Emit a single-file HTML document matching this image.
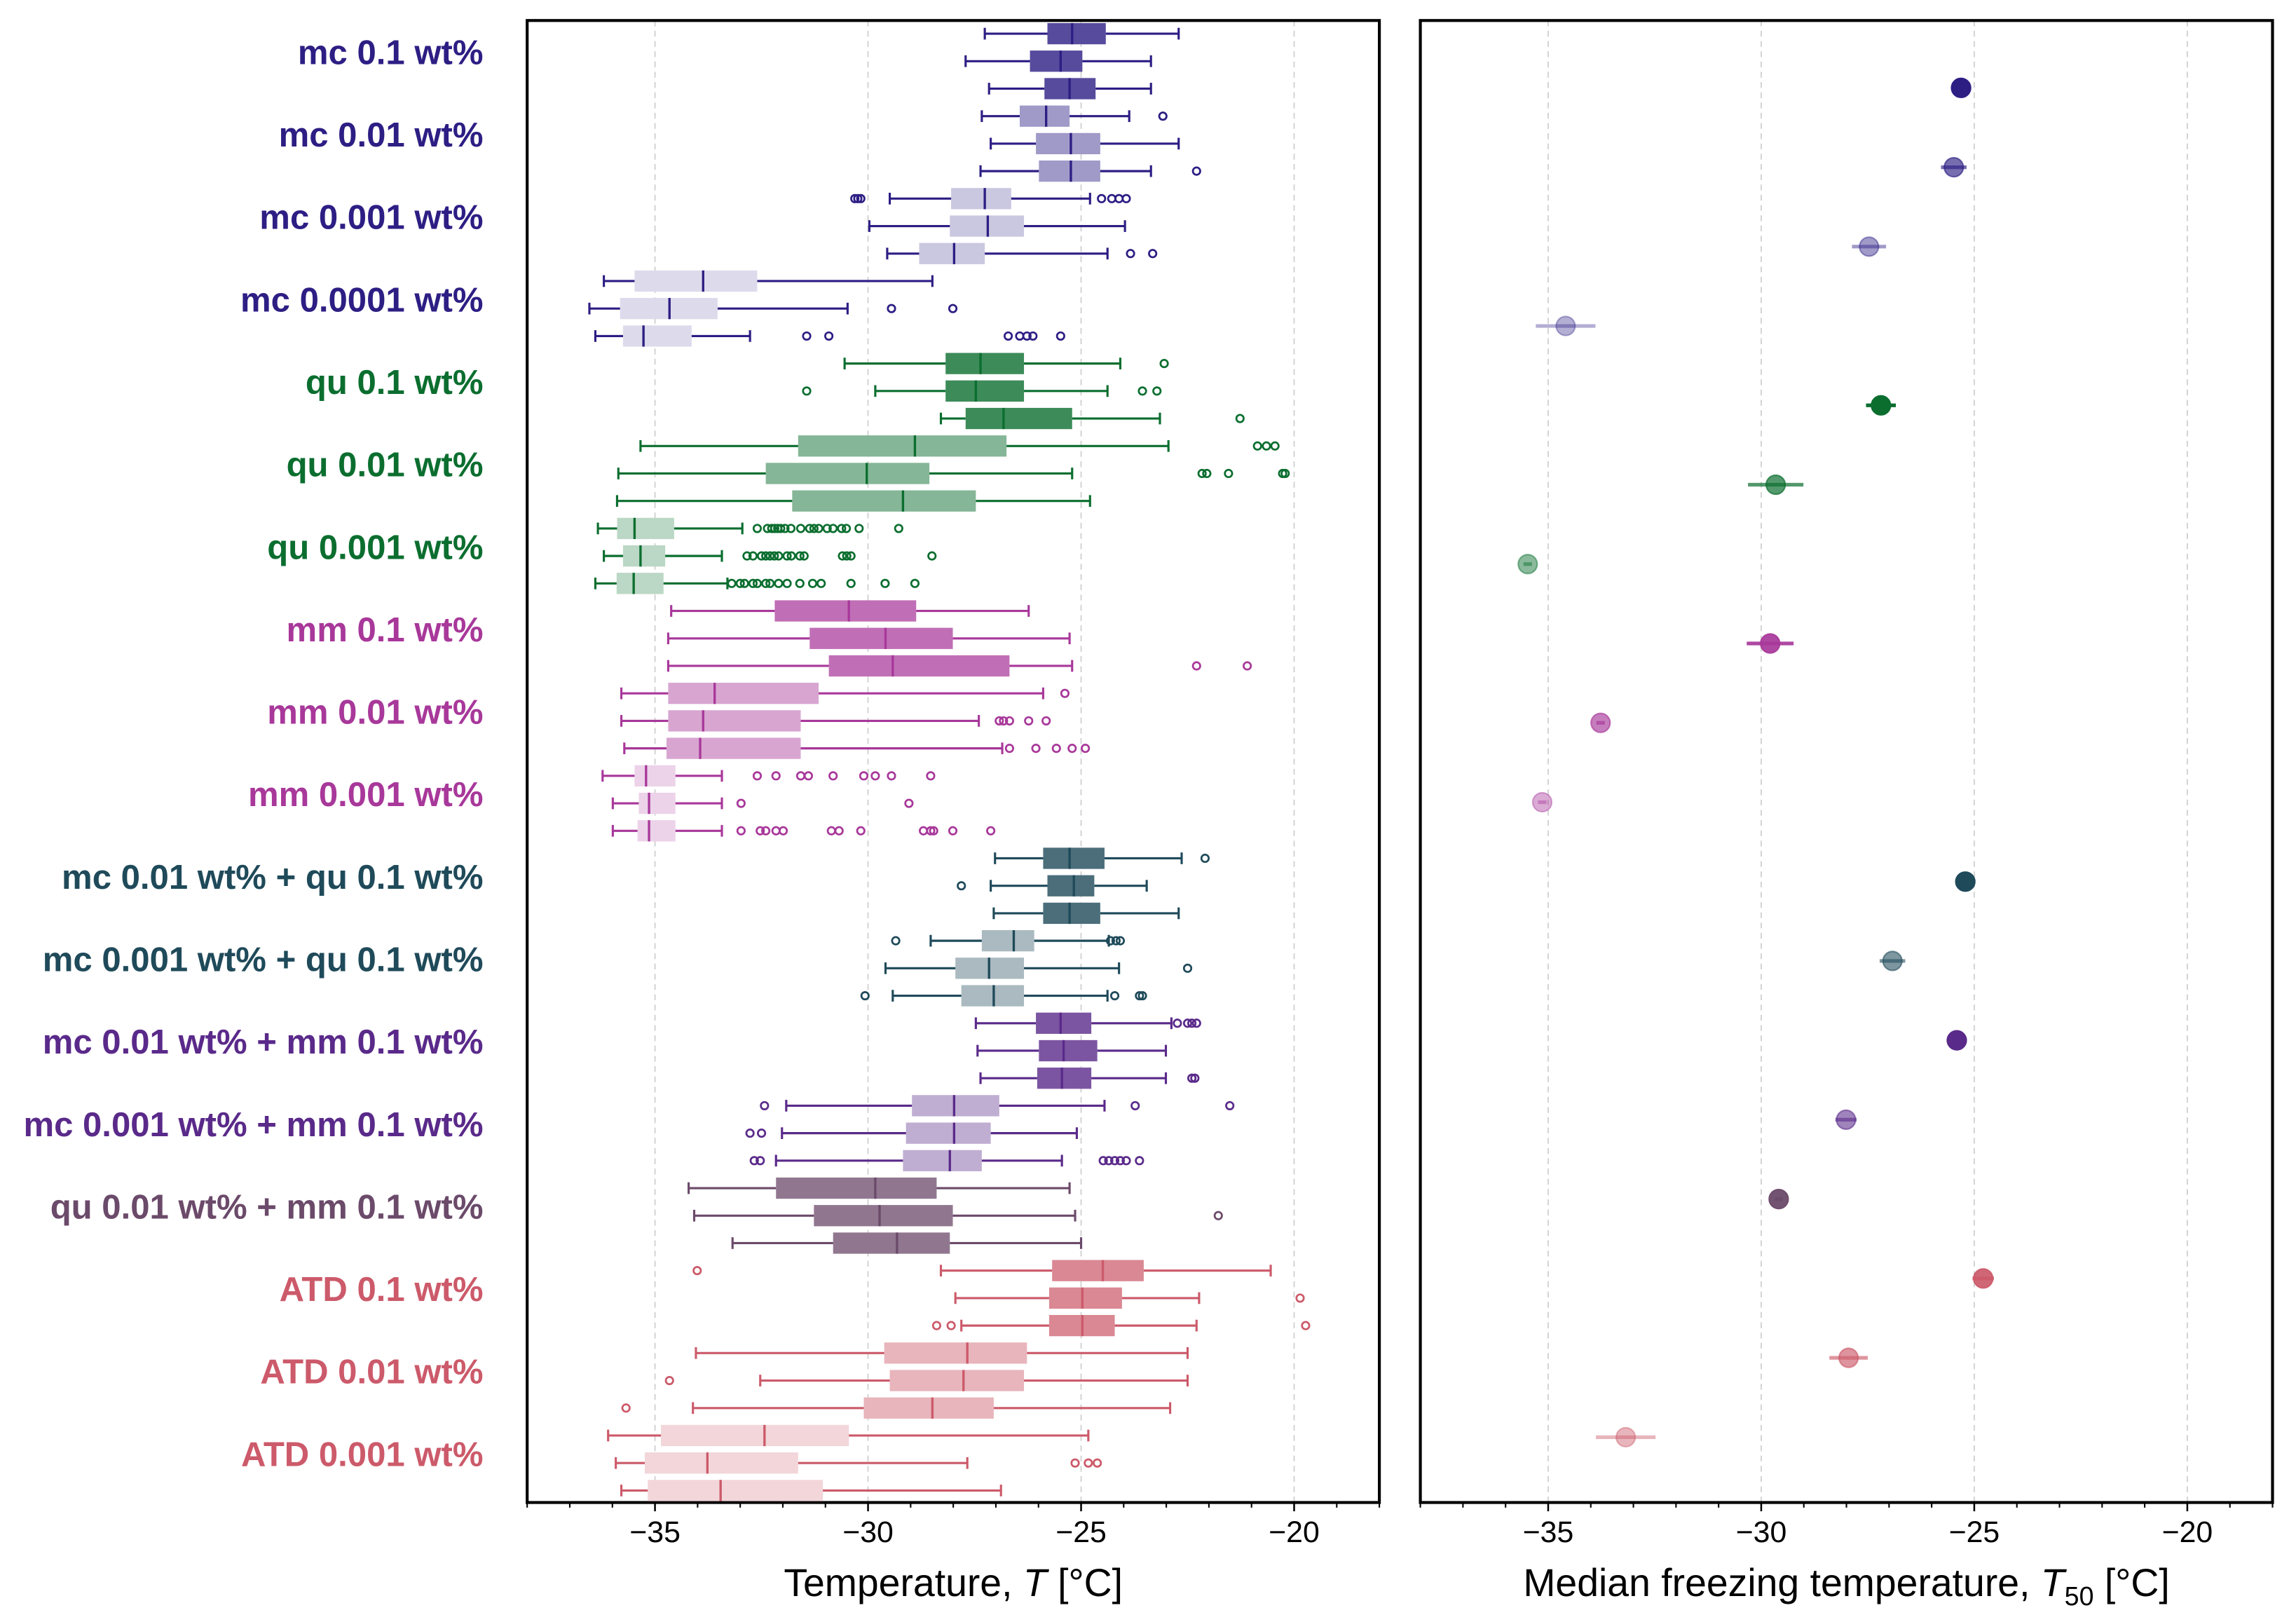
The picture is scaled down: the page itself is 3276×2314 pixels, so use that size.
<!DOCTYPE html>
<html><head><meta charset="utf-8"><style>
html,body{margin:0;padding:0;background:#fff}
svg{display:block}
text{font-family:"Liberation Sans",Arial,sans-serif}
</style></head><body>
<svg id="chart" width="3276" height="2314" viewBox="0 0 1568 1107.6" xmlns="http://www.w3.org/2000/svg"></svg>
<script>
const labels=["mc 0.1 wt%","mc 0.01 wt%","mc 0.001 wt%","mc 0.0001 wt%","qu 0.1 wt%","qu 0.01 wt%","qu 0.001 wt%","mm 0.1 wt%","mm 0.01 wt%","mm 0.001 wt%","mc 0.01 wt% + qu 0.1 wt%","mc 0.001 wt% + qu 0.1 wt%","mc 0.01 wt% + mm 0.1 wt%","mc 0.001 wt% + mm 0.1 wt%","qu 0.01 wt% + mm 0.1 wt%","ATD 0.1 wt%","ATD 0.01 wt%","ATD 0.001 wt%"];
const colors=["#2d1e84","#2d1e84","#2d1e84","#2d1e84","#0b6e2f","#0b6e2f","#0b6e2f","#a8389a","#a8389a","#a8389a","#1f4a5a","#1f4a5a","#5a2a8a","#5a2a8a","#6b4a6a","#cc5a6a","#cc5a6a","#cc5a6a"];
const alphas=[0.8,0.45,0.25,0.16,0.8,0.5,0.28,0.72,0.45,0.22,0.8,0.38,0.8,0.38,0.75,0.72,0.45,0.25];
const whLo=[-27.26,-27.71,-27.16,-27.33,-27.12,-27.36,-29.49,-29.97,-29.55,-36.20,-36.54,-36.40,-30.55,-29.83,-28.29,-35.34,-35.86,-35.89,-36.34,-36.20,-36.40,-34.62,-34.69,-34.69,-35.79,-35.79,-35.72,-36.23,-35.99,-35.99,-27.02,-27.12,-27.05,-28.53,-29.59,-29.42,-27.47,-27.43,-27.36,-31.92,-32.02,-32.16,-34.21,-34.08,-33.18,-28.29,-27.95,-27.81,-34.04,-32.53,-34.11,-36.10,-35.92,-35.79];
const q1=[-25.79,-26.20,-25.86,-26.44,-26.06,-25.99,-28.05,-28.08,-28.80,-35.48,-35.82,-35.75,-28.18,-28.18,-27.71,-31.64,-32.40,-31.78,-35.89,-35.75,-35.90,-32.19,-31.37,-30.92,-34.69,-34.69,-34.73,-35.48,-35.38,-35.41,-25.89,-25.79,-25.89,-27.33,-27.95,-27.81,-26.06,-25.99,-26.03,-28.97,-29.11,-29.18,-32.16,-31.27,-30.82,-25.68,-25.75,-25.75,-29.62,-29.49,-30.10,-34.86,-35.24,-35.17];
const med=[-25.21,-25.48,-25.27,-25.82,-25.24,-25.24,-27.26,-27.19,-27.98,-33.87,-34.66,-35.27,-27.36,-27.47,-26.82,-28.90,-30.03,-29.18,-35.48,-35.34,-35.50,-30.45,-29.59,-29.42,-33.60,-33.87,-33.94,-35.21,-35.14,-35.14,-25.27,-25.17,-25.27,-26.58,-27.16,-27.05,-25.48,-25.41,-25.45,-27.98,-27.98,-28.08,-29.83,-29.73,-29.32,-24.49,-24.97,-24.97,-27.67,-27.76,-28.49,-32.43,-33.77,-33.46];
const q3=[-24.42,-24.97,-24.66,-25.27,-24.55,-24.55,-26.64,-26.34,-27.26,-32.60,-33.53,-34.14,-26.34,-26.34,-25.21,-26.75,-28.56,-27.47,-34.55,-34.76,-34.80,-28.87,-28.01,-26.68,-31.16,-31.58,-31.58,-34.52,-34.52,-34.52,-24.45,-24.69,-24.55,-26.10,-26.34,-26.34,-24.76,-24.62,-24.76,-26.92,-27.12,-27.33,-28.39,-28.01,-28.08,-23.53,-24.04,-24.21,-26.27,-26.34,-27.05,-30.45,-31.64,-31.06];
const whHi=[-22.71,-23.36,-23.36,-23.87,-22.71,-23.36,-24.79,-23.97,-24.38,-28.49,-30.48,-32.77,-24.08,-24.38,-23.15,-22.95,-25.21,-24.79,-32.95,-33.43,-33.30,-26.23,-25.27,-25.21,-25.89,-27.40,-26.85,-33.43,-33.43,-33.43,-22.64,-23.46,-22.71,-24.35,-24.11,-24.38,-22.88,-23.01,-23.01,-24.45,-25.10,-25.45,-25.27,-25.14,-25.00,-20.55,-22.23,-22.29,-22.50,-22.50,-22.91,-24.83,-27.67,-26.88];
const fliers=[[],[],[],[-23.08],[],[-22.29],[-30.31,-30.24,-30.17,-24.52,-24.28,-24.11,-23.94],[],[-23.84,-23.32],[],[-29.45,-28.01],[-31.44,-30.92,-26.71,-26.44,-26.27,-26.13,-25.48],
[-23.05],[-31.44,-23.56,-23.22],[-21.27],[-20.86,-20.65,-20.45],[-22.16,-22.05,-21.54,-20.27,-20.21],[],
[-32.60,-32.36,-32.26,-32.19,-32.12,-32.05,-31.95,-31.81,-31.58,-31.37,-31.27,-31.16,-30.96,-30.82,-30.62,-30.51,-30.21,-29.28],
[-32.84,-32.7,-32.5,-32.4,-32.3,-32.2,-32.1,-31.9,-31.8,-31.6,-31.5,-30.6,-30.5,-30.4,-28.5],
[-33.2,-33.0,-32.9,-32.7,-32.6,-32.4,-32.3,-32.1,-31.9,-31.6,-31.3,-31.1,-30.4,-29.6,-28.9],
[],[],[-22.29,-21.10],[-25.38],[-26.92,-26.82,-26.68,-26.23,-25.82],[-26.68,-26.06,-25.58,-25.21,-24.90],
[-32.60,-32.16,-31.58,-31.40,-30.82,-30.10,-29.83,-29.45,-28.53],[-32.98,-29.04],
[-32.98,-32.53,-32.40,-32.16,-31.99,-30.86,-30.68,-30.17,-28.70,-28.53,-28.46,-28.01,-27.12],
[-22.09],[-27.81],[],[-29.35,-24.31,-24.18,-24.08],[-22.50],[-30.07,-24.21,-23.63,-23.56],
[-22.74,-22.50,-22.40,-22.29],[],[-22.40,-22.33],[-32.43,-23.73,-21.51],[-32.77,-32.50],[-32.67,-32.53,-24.48,-24.35,-24.21,-24.08,-23.94,-23.63],
[],[-21.78],[],[-34.01],[-19.86],[-28.39,-28.05,-19.73],[],[-34.66],[-35.68],[],[-25.14,-24.83,-24.62],[]];
const t50=[-25.31,-25.48,-27.47,-34.59,-27.19,-29.66,-35.48,-29.79,-33.77,-35.14,-25.21,-26.92,-25.41,-28.01,-29.59,-24.79,-27.95,-33.18];
const t50err=[0.08,0.3,0.4,0.7,0.35,0.65,0.1,0.55,0.1,0.1,0.1,0.3,0.1,0.25,0.1,0.25,0.45,0.7];
const xTicks=[-35,-30,-25,-20];

const NS="http://www.w3.org/2000/svg";
const svg=document.getElementById('chart');
function el(t,a,p){const e=document.createElementNS(NS,t);for(const k in a)e.setAttribute(k,a[k]);(p||svg).appendChild(e);return e;}
const L={x0:360,x1:942},R={x0:970,x1:1552},Y0=14,Y1=1026;
function xs(p,v){return p.x0+(v+38)/20*(p.x1-p.x0);}
function rowY(r){return 23+r*18.77;}
function rowOfGroup(r){return Math.floor(r/3);}

[L,R].forEach((p,pi)=>{
  const g=el('g',{});
  
  
  xTicks.forEach(v=>{const x=xs(p,v);
    const gl=el('line',{x1:x,x2:x,y1:Y0,y2:Y1,stroke:'#ccc','stroke-width':0.8,'stroke-dasharray':'4,3'},g);
    
    el('line',{x1:x,x2:x,y1:Y1,y2:Y1+6,stroke:'#000','stroke-width':1.2},g);
    const t=el('text',{x:x,y:Y1+27,'text-anchor':'middle','font-size':20.5,fill:'#000'},g);t.textContent='\u2212'+Math.abs(v);
    
  });
  for(let v=-38;v<=-18;v++){if(v%5===0)continue;const x=xs(p,v);el('line',{x1:x,x2:x,y1:Y1,y2:Y1+3.5,stroke:'#000','stroke-width':1},g);}
  const fr=el('rect',{x:p.x0,y:Y0,width:p.x1-p.x0,height:Y1-Y0,fill:'none',stroke:'#000','stroke-width':2},g);
  
});
const tl=el('text',{x:(L.x0+L.x1)/2,y:1090,'text-anchor':'middle','font-size':26.5});
tl.innerHTML='Temperature, <tspan font-style="italic">T</tspan> [°C]';

const tr=el('text',{x:(R.x0+R.x1)/2,y:1090,'text-anchor':'middle','font-size':26.5});
tr.innerHTML='Median freezing temperature, <tspan font-style="italic">T</tspan><tspan font-size="18" dy="6">50</tspan><tspan dy="-6"> [°C]</tspan>';


labels.forEach((lab,gi)=>{
  const t=el('text',{x:330,y:rowY(gi*3+1)+2,'text-anchor':'end','font-size':23.5,'font-weight':'bold',fill:colors[gi]});
  t.textContent=lab;
  
});
for(let r=0;r<med.length;r++){
  const gi=rowOfGroup(r),c=colors[gi],y=rowY(r),h=14.5;
  const g=el('g',{});
  
  
  el('line',{x1:xs(L,whLo[r]),x2:xs(L,whHi[r]),y1:y,y2:y,stroke:c,'stroke-width':1.5},g);
  [whLo[r],whHi[r]].forEach(v=>el('line',{x1:xs(L,v),x2:xs(L,v),y1:y-4,y2:y+4,stroke:c,'stroke-width':1.5},g));
  el('rect',{x:xs(L,q1[r]),y:y-h/2,width:xs(L,q3[r])-xs(L,q1[r]),height:h,fill:'#fff'},g);
  el('rect',{x:xs(L,q1[r]),y:y-h/2,width:xs(L,q3[r])-xs(L,q1[r]),height:h,fill:c,'fill-opacity':alphas[gi]},g);
  el('line',{x1:xs(L,med[r]),x2:xs(L,med[r]),y1:y-h/2,y2:y+h/2,stroke:c,'stroke-width':1.6},g);
  fliers[r].forEach(v=>{const o=el('circle',{cx:xs(L,v),cy:y,r:2.5,fill:'none',stroke:c,'stroke-width':1.3},g);
    });
}
t50.forEach((v,i)=>{
  const c=colors[i],y=60+i*54.2,a=Math.min(1,alphas[i]+0.2);
  const g=el('g',{});
  
  
  el('line',{x1:xs(R,v-t50err[i]),x2:xs(R,v+t50err[i]),y1:y,y2:y,stroke:c,'stroke-opacity':a,'stroke-width':2.5},g);
  el('circle',{cx:xs(R,v),cy:y,r:6.5,fill:c,'fill-opacity':a,stroke:c,'stroke-opacity':a,'stroke-width':1},g);
});
</script>
</body></html>
